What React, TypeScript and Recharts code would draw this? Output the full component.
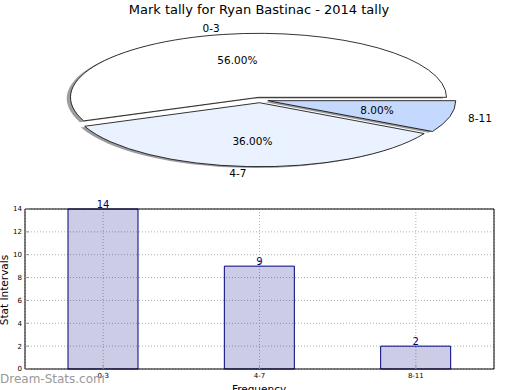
import * as React from "react";
import {
  PieChart,
  Pie,
  BarChart,
  Bar,
  XAxis,
  YAxis,
  CartesianGrid,
  LabelList,
} from "recharts";

const categories = ["0-3", "4-7", "8-11"];
const counts = [14, 9, 2];
const pieColors = ["#ffffff", "#ebf2ff", "#c5d9ff"];
const yTicks = [0, 2, 4, 6, 8, 10, 12, 14];

const pieData = categories.map((name, i) => ({ name, value: counts[i], fill: pieColors[i] }));
const barData = categories.map((name, i) => ({ name, value: counts[i] }));

const FONT = "'DejaVu Sans', sans-serif";
const NAVY = "#000080";
const TICK_GREY = "#999";

// pie is drawn squashed, like the original (circle on a stretched axes)
const CX = 260;
const CY = 100;
const RX = 188;
const RY = 64;
const EXPLODE = 8;
const RAD = Math.PI / 180;

function explodeOffset(mid: number) {
  return {
    dx: EXPLODE * Math.cos(mid * RAD),
    dy: -EXPLODE * (RY / RX) * Math.sin(mid * RAD),
  };
}

function wedgePath(cx: number, cy: number, a0: number, a1: number) {
  const x0 = cx + RX * Math.cos(a0 * RAD);
  const y0 = cy - RY * Math.sin(a0 * RAD);
  const x1 = cx + RX * Math.cos(a1 * RAD);
  const y1 = cy - RY * Math.sin(a1 * RAD);
  const large = Math.abs(a1 - a0) > 180 ? 1 : 0;
  return `M${cx},${cy} L${x0},${y0} A${RX},${RY} 0 ${large} 0 ${x1},${y1} Z`;
}

function makeWedge(shadow: boolean) {
  return (props: any) => {
    const { startAngle, endAngle, payload } = props;
    const mid = (startAngle + endAngle) / 2;
    const { dx, dy } = explodeOffset(mid);
    const sx = shadow ? -0.02 * RX : 0;
    const sy = shadow ? 0.02 * RY : 0;
    const d = wedgePath(CX + dx + sx, CY + dy + sy, startAngle, endAngle);
    if (shadow) {
      return <path d={d} fill="#4d4d4d" fillOpacity={0.55} stroke="none" />;
    }
    return <path d={d} fill={payload?.fill ?? props.fill} stroke="#000" strokeWidth={0.8} />;
  };
}

function renderPieLabel(props: any) {
  const { midAngle, percent, name } = props;
  const c = Math.cos(midAngle * RAD);
  const s = Math.sin(midAngle * RAD);
  const { dx, dy } = explodeOffset(midAngle);
  const cx = CX + dx;
  const cy = CY + dy;
  return (
    <g style={{ fontFamily: FONT, fontSize: 10.5 }}>
      <text
        x={cx + 1.1 * RX * c}
        y={cy - 1.1 * RY * s}
        textAnchor={c < 0 ? "end" : "start"}
        dominantBaseline="central"
        fill="#000"
      >
        {name}
      </text>
      <text
        x={cx + 0.6 * RX * c}
        y={cy - 0.6 * RY * s}
        textAnchor="middle"
        dominantBaseline="central"
        fill="#000"
      >
        {(percent * 100).toFixed(2)}%
      </text>
    </g>
  );
}

// y axis title, drawn in the svg to the left of the tick labels
function renderYTitle(props: any) {
  const vb = props.viewBox || {};
  const x = 4;
  const y = (vb.y ?? 15) + (vb.height ?? 159) / 2 + 1;
  return (
    <text
      x={x}
      y={y}
      transform={`rotate(-90 ${x} ${y})`}
      textAnchor="middle"
      dominantBaseline="central"
      fontSize={10.5}
      fontFamily={FONT}
      fill="#000"
    >
      Stat Intervals
    </text>
  );
}

export default function App() {
  return (
    <div
      style={{
        position: "absolute",
        left: 0,
        top: 0,
        width: 520,
        height: 390,
        overflow: "hidden",
        background: "#fff",
        fontFamily: FONT,
      }}
    >
      <div
        style={{
          position: "absolute",
          top: 3,
          left: 0,
          width: 518,
          textAlign: "center",
          fontSize: 13,
          lineHeight: "13px",
        }}
      >
        Mark tally for Ryan Bastinac - 2014 tally
      </div>

      <div style={{ position: "absolute", top: 0, left: 0 }}>
        <PieChart width={520} height={195} margin={{ top: 0, right: 0, bottom: 0, left: 0 }}>
          <Pie
            data={pieData}
            dataKey="value"
            nameKey="name"
            cx={CX}
            cy={CY}
            outerRadius={RX}
            startAngle={0}
            endAngle={360}
            shape={makeWedge(true)}
            label={false}
            labelLine={false}
            isAnimationActive={false}
          />
          <Pie
            data={pieData}
            dataKey="value"
            nameKey="name"
            cx={CX}
            cy={CY}
            outerRadius={RX}
            startAngle={0}
            endAngle={360}
            shape={makeWedge(false)}
            label={renderPieLabel}
            labelLine={false}
            isAnimationActive={false}
          />
        </PieChart>
      </div>

      <div style={{ position: "absolute", top: 195, left: 0 }}>
        <BarChart
          width={520}
          height={195}
          data={barData}
          margin={{ top: 14, right: 26, bottom: 0, left: 0 }}
          barSize={70}
        >
          <CartesianGrid stroke="#b0b0b0" strokeDasharray="1 2" />
          <XAxis
            dataKey="name"
            height={21}
            interval={0}
            tickSize={-4}
            tickMargin={8}
            tickLine={{ stroke: TICK_GREY }}
            axisLine={{ stroke: "#000" }}
            tick={{ fontSize: 7, fill: "#000", fontFamily: FONT }}
          />
          <XAxis
            xAxisId="top"
            dataKey="name"
            orientation="top"
            height={1}
            mirror
            tickSize={4}
            tick={false}
            tickLine={{ stroke: TICK_GREY }}
            axisLine={{ stroke: "#000" }}
          />
          <YAxis
            domain={[0, 14]}
            ticks={yTicks}
            interval={0}
            width={25}
            tickSize={-4}
            tickMargin={7}
            tickLine={{ stroke: TICK_GREY }}
            axisLine={{ stroke: "#000" }}
            tick={{ fontSize: 7, fill: "#000", fontFamily: FONT }}
            label={renderYTitle}
          />
          <YAxis
            yAxisId="right"
            orientation="right"
            domain={[0, 14]}
            ticks={yTicks}
            interval={0}
            width={1}
            mirror
            tickSize={4}
            tick={false}
            tickLine={{ stroke: TICK_GREY }}
            axisLine={{ stroke: "#000" }}
          />
          <Bar
            dataKey="value"
            fill={NAVY}
            fillOpacity={0.2}
            stroke={NAVY}
            strokeWidth={1}
            isAnimationActive={false}
          >
            <LabelList
              dataKey="value"
              position="top"
              offset={1}
              fill={NAVY}
              fontSize={10}
              fontFamily={FONT}
            />
          </Bar>
        </BarChart>
      </div>

      <div
        style={{
          position: "absolute",
          left: 0,
          width: 518,
          top: 383,
          textAlign: "center",
          fontSize: 10.5,
          lineHeight: "12px",
        }}
      >
        Frequency
      </div>
      <div
        style={{
          position: "absolute",
          left: 0,
          top: 372,
          fontSize: 12,
          lineHeight: "14px",
          color: "#999",
        }}
      >
        Dream-Stats.com
      </div>
    </div>
  );
}
